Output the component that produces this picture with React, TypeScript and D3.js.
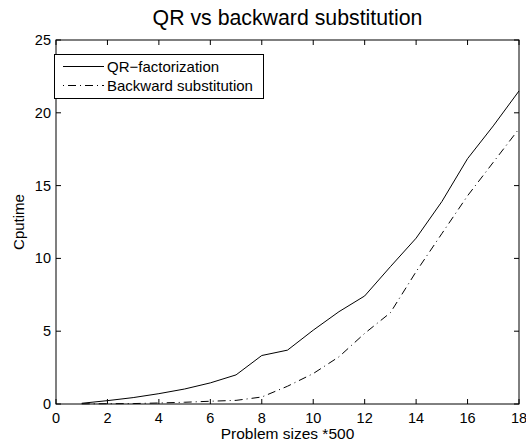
import React from "react";
import * as d3 from "d3";

const problemSizes = [1, 2, 3, 4, 5, 6, 7, 8, 9, 10, 11, 12, 13, 14, 15, 16, 17, 18];
const qrTimes = [0.05, 0.23, 0.44, 0.71, 1.03, 1.45, 2.0, 3.33, 3.7, 5.07, 6.34, 7.42, 9.43, 11.39, 13.9, 16.85, 19.1, 21.5];
const backTimes = [0.01, 0.02, 0.03, 0.07, 0.12, 0.19, 0.25, 0.48, 1.22, 2.09, 3.24, 4.85, 6.27, 9.09, 11.7, 14.3, 16.6, 18.9];
const xTicks = [0, 2, 4, 6, 8, 10, 12, 14, 16, 18];
const yTicks = [0, 5, 10, 15, 20, 25];
const seriesNames = ["QR\u2212factorization", "Backward substitution"];

const W = 526;
const H = 444;
const left = 56;
const right = 519;
const top = 40;
const bottom = 404;
const FONT = "'Liberation Sans', Arial, Helvetica, sans-serif";

export default function App() {
  const x = d3.scaleLinear().domain([0, 18]).range([left, right]);
  const y = d3.scaleLinear().domain([0, 25]).range([bottom, top]);
  const line = d3
    .line<number>()
    .x((_, i) => x(problemSizes[i]))
    .y((d) => y(d));
  const tl = 5;
  const dash = "8,4,1,4";

  return (
    <svg
      width={W}
      height={H}
      style={{ position: "absolute", left: 0, top: 0, background: "#fff" }}
      fontFamily={FONT}
    >
      <rect x={0} y={0} width={W} height={H} fill="#fff" />
      {/* data lines */}
      <path d={line(qrTimes) || ""} fill="none" stroke="#000" strokeWidth={1} />
      <path d={line(backTimes) || ""} fill="none" stroke="#000" strokeWidth={1} strokeDasharray={dash} />

      {/* axes box */}
      <rect x={left} y={top} width={right - left} height={bottom - top} fill="none" stroke="#000" strokeWidth={1} />
      {xTicks.map((t) => (
        <g key={"x" + t}>
          <line x1={x(t)} x2={x(t)} y1={bottom} y2={bottom - tl} stroke="#000" />
          <line x1={x(t)} x2={x(t)} y1={top} y2={top + tl} stroke="#000" />
          <text x={x(t)} y={423} fontSize={14.5} textAnchor="middle" fill="#000">
            {t}
          </text>
        </g>
      ))}
      {yTicks.map((t) => (
        <g key={"y" + t}>
          <line x1={left} x2={left + tl} y1={y(t)} y2={y(t)} stroke="#000" />
          <line x1={right} x2={right - tl} y1={y(t)} y2={y(t)} stroke="#000" />
          <text x={51} y={y(t) + 5} fontSize={14.5} textAnchor="end" fill="#000">
            {t}
          </text>
        </g>
      ))}

      {/* labels */}
      <text x={(left + right) / 2} y={25} fontSize={21.3} textAnchor="middle" fill="#000">
        QR vs backward substitution
      </text>
      <text x={(left + right) / 2} y={439} fontSize={15.5} textAnchor="middle" fill="#000">
        Problem sizes *500
      </text>
      <text
        transform={`translate(24,${(top + bottom) / 2}) rotate(-90)`}
        fontSize={15}
        textAnchor="middle"
        fill="#000"
      >
        Cputime
      </text>

      {/* legend */}
      <rect x={54.5} y={54.5} width={209} height={44} fill="#fff" stroke="#000" strokeWidth={1} />
      <line x1={63} x2={104} y1={66.5} y2={66.5} stroke="#000" />
      <text x={107} y={71.5} fontSize={15} fill="#000">
        {seriesNames[0]}
      </text>
      <line x1={63} x2={104} y1={85.5} y2={85.5} stroke="#000" strokeDasharray={"1,4,8,4"} />
      <text x={107} y={91} fontSize={15} fill="#000">
        {seriesNames[1]}
      </text>
    </svg>
  );
}
